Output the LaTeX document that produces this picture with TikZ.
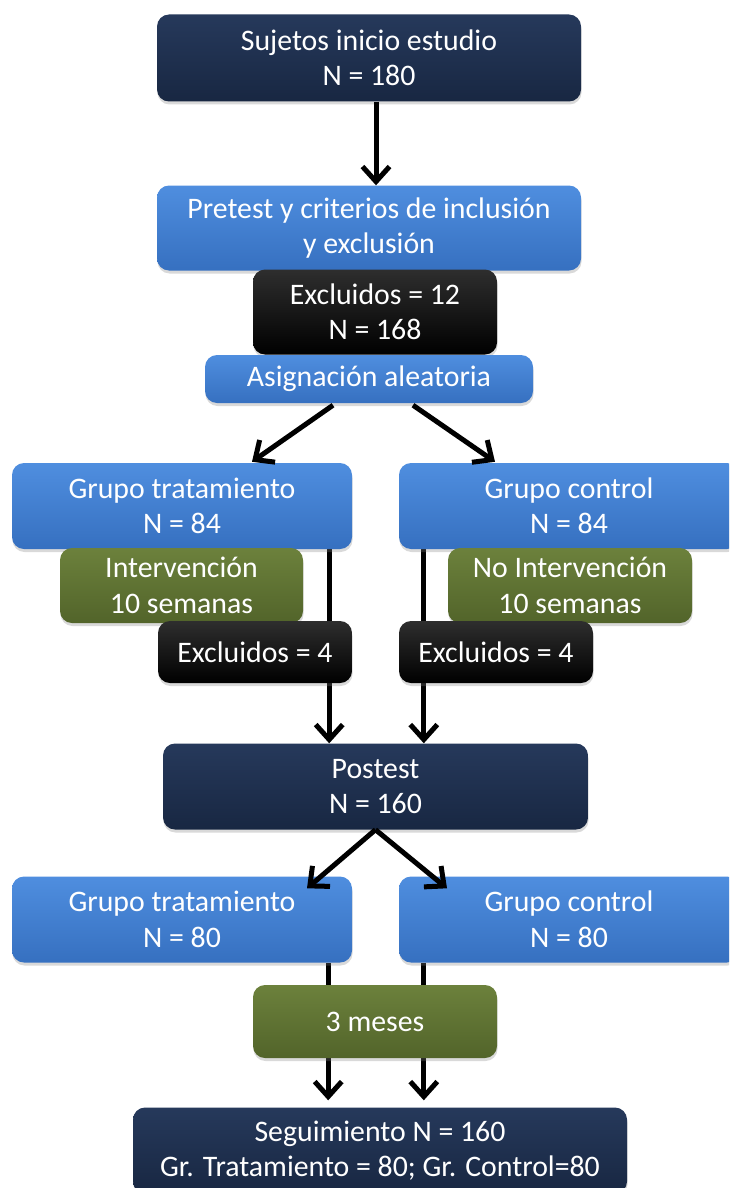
\documentclass[tikz,border=0pt]{standalone}
\usepackage{fontspec}
\setmainfont{Carlito}
\usetikzlibrary{arrows.meta,shadows,backgrounds}

\definecolor{navyTop}{HTML}{26395B}
\definecolor{navyMid}{HTML}{1B2B48}
\definecolor{navyBot}{HTML}{182742}
\definecolor{blueTop}{HTML}{4F8EDF}
\definecolor{blueMid}{HTML}{3E7BCB}
\definecolor{blueBot}{HTML}{3670C0}
\definecolor{greenTop}{HTML}{6C813C}
\definecolor{greenMid}{HTML}{5A6D2F}
\definecolor{greenBot}{HTML}{52642A}
\definecolor{blackTop}{HTML}{2E2E2E}
\definecolor{blackMid}{HTML}{050505}

\tikzset{
  card/.style={rounded corners=12pt, text=white, align=center, inner sep=0pt,
    font=\fontsize{29.8}{35.5}\selectfont,
    drop shadow={shadow xshift=0.5pt, shadow yshift=-3pt, opacity=0.3}},
  navybox/.style={card, top color=navyTop, middle color=navyMid, bottom color=navyBot},
  bluebox/.style={card, top color=blueTop, middle color=blueMid, bottom color=blueBot},
  greenbox/.style={card, top color=greenTop, middle color=greenMid, bottom color=greenBot},
  blackbox/.style={card, top color=blackTop, middle color=blackMid, bottom color=black},
  arr/.style={line width=5pt, -{Straight Barb[length=15pt,width=27pt,line width=5pt]}}
}

\begin{document}
\begin{tikzpicture}[x=1pt,y=-1pt]
\useasboundingbox (0,0) rectangle (729,1188);
\clip (0,0) rectangle (729,1188);

% study entry and screening
\node[navybox, minimum width=424pt, minimum height=87pt] (start) at (369,58)
  {Sujetos inicio estudio\\N = 180};
\node[bluebox, minimum width=424pt, minimum height=85pt] (pre) at (369,228)
  {Pretest y criterios de inclusión\\y exclusión};
\node[blackbox, minimum width=244pt, minimum height=85pt] (ex12) at (375,312)
  {Excluidos = 12\\N = 168};
\node[bluebox, minimum width=328pt, minimum height=48pt] (asig) at (369,379)
  {Asignación aleatoria};

% groups after randomisation
\node[bluebox, minimum width=340pt, minimum height=86pt] (gt1) at (182,506)
  {Grupo tratamiento\\N = 84};
\node[bluebox, minimum width=340pt, minimum height=86pt] (gc1) at (569,506)
  {Grupo control\\N = 84};
\node[greenbox, minimum width=243pt, minimum height=75pt] (int) at (181.5,585.5)
  {Intervención\\10 semanas};
\node[greenbox, minimum width=244pt, minimum height=75pt] (noint) at (570,585.5)
  {No Intervención\\10 semanas};
\node[blackbox, minimum width=194pt, minimum height=62pt] (exL) at (255,652)
  {Excluidos = 4};
\node[blackbox, minimum width=194pt, minimum height=62pt] (exR) at (496,652)
  {Excluidos = 4};

% post-test and follow-up
\node[navybox, minimum width=425pt, minimum height=86pt] (post) at (375.5,786.5)
  {Postest\\N = 160};
\node[bluebox, minimum width=340pt, minimum height=86pt] (gt2) at (182,919.5)
  {Grupo tratamiento\\N = 80};
\node[bluebox, minimum width=340pt, minimum height=86pt] (gc2) at (569,919.5)
  {Grupo control\\N = 80};
\node[greenbox, minimum width=244pt, minimum height=73pt] (mes) at (375,1021.5)
  {3 meses};
\node[navybox, minimum width=494pt, minimum height=86pt] (seg) at (380,1150.5)
  {Seguimiento N = 160\\Gr. Tratamiento = 80; Gr. Control=80};

% connectors running behind the boxes
\begin{pgfonlayer}{background}
  \draw[arr] ([xshift=-23pt]gt1.south east) -- ([xshift=-23pt]gt1.south east |- post.north);
  \draw[arr] ([xshift=25pt]gc1.south west) -- ([xshift=25pt]gc1.south west |- post.north);
  \draw[arr] ([xshift=-24pt]gt2.south east) -- ([xshift=-24pt,yshift=7pt]gt2.south east |- seg.north);
  \draw[arr] ([xshift=25pt]gc2.south west) -- ([xshift=25pt,yshift=7pt]gc2.south west |- seg.north);
\end{pgfonlayer}

% connectors drawn on top
\draw[arr] ([xshift=7pt]start.south) -- ([xshift=7pt]start.south |- pre.north);
\draw[arr] ([xshift=-36pt,yshift=-2pt]asig.south) -- ([xshift=70pt,yshift=1pt]gt1.north);
\draw[arr] ([xshift=44pt,yshift=-2pt]asig.south) -- ([xshift=-74pt,yshift=1pt]gc1.north);
\draw[arr] (post.south) -- ([xshift=125pt,yshift=-12pt]gt2.north);
\draw[arr] (post.south) -- ([xshift=-122pt,yshift=-12pt]gc2.north);
\end{tikzpicture}
\end{document}
